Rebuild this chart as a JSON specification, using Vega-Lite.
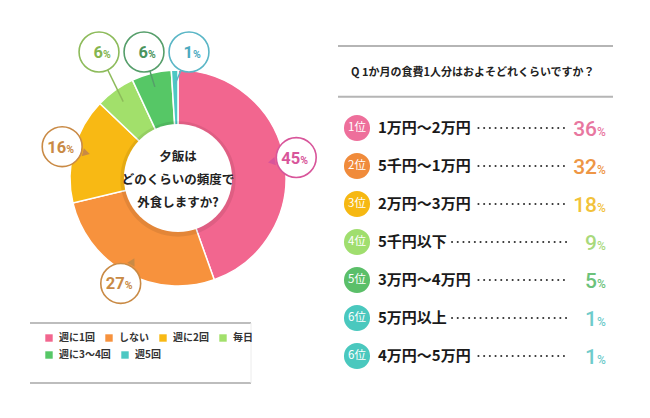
{
  "$schema": "https://vega.github.io/schema/vega-lite/v6.json",
  "padding": 0,
  "spacing": 0,
  "bounds": "flush",
  "background": "white",
  "config": {"view": {"stroke": null}, "font": "Noto Sans CJK JP"},
  "datasets": {
    "freq": [
      {"freq": "週に1回", "pct": 45, "order": 1},
      {"freq": "しない", "pct": 27, "order": 2},
      {"freq": "週に2回", "pct": 16, "order": 3},
      {"freq": "毎日", "pct": 6, "order": 4},
      {"freq": "週に3〜4回", "pct": 6, "order": 5},
      {"freq": "週5回", "pct": 1, "order": 6}
    ],
    "rank": [
      {"rank": "1位", "label": "1万円〜2万円", "pct": 36, "row": 1},
      {"rank": "2位", "label": "5千円〜1万円", "pct": 32, "row": 2},
      {"rank": "3位", "label": "2万円〜3万円", "pct": 18, "row": 3},
      {"rank": "4位", "label": "5千円以下", "pct": 9, "row": 4},
      {"rank": "5位", "label": "3万円〜4万円", "pct": 5, "row": 5},
      {"rank": "6位", "label": "5万円以上", "pct": 1, "row": 6},
      {"rank": "6位", "label": "4万円〜5万円", "pct": 1, "row": 7}
    ]
  },
  "resolve": {
    "scale": {"x": "independent", "y": "independent", "color": "independent", "fill": "independent", "stroke": "independent"},
    "legend": {"color": "independent"}
  },
  "hconcat": [
    {
      "width": 338,
      "height": 418,
      "resolve": {"scale": {"color": "independent"}, "legend": {"color": "independent"}},
      "encoding": {
        "x": {"type": "quantitative", "scale": {"domain": [-178, 160], "nice": false, "zero": false}, "axis": null},
        "y": {"type": "quantitative", "scale": {"domain": [-240, 178], "nice": false, "zero": false}, "axis": null}
      },
      "layer": [
        {
          "data": {"name": "freq"},
          "mark": {"type": "arc", "outerRadius": 108, "innerRadius": 50, "stroke": "white", "strokeWidth": 1.5},
          "encoding": {
            "x": {"datum": 0, "type": "quantitative"},
            "y": {"datum": 0, "type": "quantitative"},
            "theta": {"field": "pct", "type": "quantitative", "stack": true},
            "order": {"field": "order", "type": "quantitative"},
            "color": {
              "field": "freq", "type": "nominal",
              "scale": {"domain": ["週に1回", "しない", "週に2回", "毎日", "週に3〜4回", "週5回"],
                        "range": ["#F2668F", "#F7923D", "#F8B914", "#A2E06B", "#56C766", "#4DC8C3"]},
              "legend": {
                "orient": "none", "direction": "horizontal", "legendX": 44, "legendY": 333, "title": null,
                "values": ["週に1回", "しない", "週に2回", "毎日"],
                "symbolType": "square", "symbolSize": 55, "symbolStrokeWidth": 0,
                "symbolOpacity": 1, "labelFontSize": 10, "labelFontWeight": "bold", "labelColor": "#333",
                "labelFont": "Noto Sans CJK JP", "columnPadding": 9, "labelOffset": 5, "padding": 0
              }
            }
          }
        },
        {
          "data": {"name": "freq"},
          "transform": [{"filter": "datum.order >= 5"}],
          "mark": {"type": "point", "shape": "square", "filled": true, "opacity": 0},
          "encoding": {
            "x": {"datum": 0, "type": "quantitative"},
            "y": {"datum": 0, "type": "quantitative"},
            "color": {
              "field": "freq", "type": "nominal",
              "scale": {"domain": ["週に3〜4回", "週5回"], "range": ["#56C766", "#4DC8C3"]},
              "legend": {
                "orient": "none", "direction": "horizontal", "legendX": 44, "legendY": 350, "title": null,
                "symbolType": "square", "symbolSize": 55, "symbolStrokeWidth": 0,
                "symbolOpacity": 1, "labelFontSize": 10, "labelFontWeight": "bold", "labelColor": "#333",
                "labelFont": "Noto Sans CJK JP", "columnPadding": 9, "labelOffset": 5, "padding": 0
              }
            }
          }
        },
        {
          "data": {"values": [{}]},
          "mark": {"type": "point", "shape": "circle", "filled": true, "color": "#000", "opacity": 0.08, "size": 13300},
          "encoding": {"x": {"datum": 0, "type": "quantitative"}, "y": {"datum": -1, "type": "quantitative"}}
        },
        {
          "data": {"values": [{}]},
          "mark": {"type": "point", "shape": "circle", "filled": true, "color": "white", "opacity": 1, "size": 11700},
          "encoding": {"x": {"datum": 0, "type": "quantitative"}, "y": {"datum": 0, "type": "quantitative"}}
        },
        {
          "data": {"values": [{}]},
          "mark": {"type": "text", "text": ["夕飯は", "どのくらいの頻度で", "外食しますか?"], "fontSize": 12.5,
                   "fontWeight": "bold", "lineHeight": 23, "align": "center", "baseline": "middle", "color": "#222"},
          "encoding": {"x": {"datum": 0, "type": "quantitative"}, "y": {"datum": 21, "type": "quantitative"}}
        },
        {
          "data": {"values": [{}]},
          "mark": {"type": "rule", "color": "#bdbdbd", "strokeWidth": 2},
          "encoding": {"x": {"datum": -148, "type": "quantitative"}, "x2": {"datum": 73}, "y": {"datum": -145, "type": "quantitative"}}
        },
        {
          "data": {"values": [{}]},
          "mark": {"type": "rule", "color": "#bdbdbd", "strokeWidth": 2},
          "encoding": {"x": {"datum": -148, "type": "quantitative"}, "x2": {"datum": 73}, "y": {"datum": -205, "type": "quantitative"}}
        },
        {
          "data": {"values": [{}]},
          "mark": {"type": "rule", "color": "#ececec", "strokeWidth": 1},
          "encoding": {"x": {"datum": 73, "type": "quantitative"}, "y": {"datum": -145, "type": "quantitative"}, "y2": {"datum": -205}}
        },
        {
          "data": {"name": "freq"},
          "transform": [
            {"window": [{"op": "sum", "field": "pct", "as": "cum"}], "sort": [{"field": "order"}], "frame": [null, 0]},
            {"joinaggregate": [{"op": "sum", "field": "pct", "as": "total"}]},
            {"calculate": "(datum.cum - datum.pct/2)/datum.total*2*PI", "as": "mid"},
            {"calculate": "datum.pct >= 10", "as": "big"},
            {"calculate": "datum.big ? 120*sin(datum.mid) : -79 + 45*(datum.order-4)", "as": "lx"},
            {"calculate": "datum.big ? 120*cos(datum.mid) : 126", "as": "ly"},
            {"calculate": "94*sin(datum.mid)", "as": "px"},
            {"calculate": "94*cos(datum.mid)", "as": "py"},
            {"calculate": "sqrt(datum.lx*datum.lx + datum.ly*datum.ly)", "as": "ld"},
            {"calculate": "datum.lx - 25*datum.lx/datum.ld", "as": "tx"},
            {"calculate": "datum.ly - 25*datum.ly/datum.ld", "as": "ty"},
            {"calculate": "atan2(-datum.lx, -datum.ly)*180/PI", "as": "ta"}
          ],
          "layer": [
            {
              "transform": [{"filter": "!datum.big"}],
              "mark": {"type": "rule", "strokeWidth": 1.5},
              "encoding": {
                "x": {"field": "lx", "type": "quantitative"},
                "y": {"field": "ly", "type": "quantitative"},
                "x2": {"field": "px"},
                "y2": {"field": "py"},
                "stroke": {"field": "freq", "type": "nominal",
                  "scale": {"domain": ["週に1回", "しない", "週に2回", "毎日", "週に3〜4回", "週5回"],
                            "range": ["#D8559A", "#C98A45", "#C98A45", "#8DBB5B", "#559E6A", "#5AB6C6"]},
                  "legend": null}
              }
            },
            {
              "transform": [{"filter": "datum.big"}],
              "mark": {"type": "point", "shape": "triangle-up", "filled": true, "size": 70, "opacity": 1},
              "encoding": {
                "x": {"field": "tx", "type": "quantitative"},
                "y": {"field": "ty", "type": "quantitative"},
                "angle": {"field": "ta", "type": "quantitative", "scale": null},
                "fill": {"field": "freq", "type": "nominal",
                  "scale": {"domain": ["週に1回", "しない", "週に2回", "毎日", "週に3〜4回", "週5回"],
                            "range": ["#D8559A", "#C98A45", "#C98A45", "#84B54F", "#4A945D", "#4CAABF"]},
                  "legend": null}
              }
            },
            {
              "mark": {"type": "point", "shape": "circle", "size": 1590, "filled": false, "fill": "white", "fillOpacity": 1, "strokeWidth": 1.6, "opacity": 1},
              "encoding": {
                "x": {"field": "lx", "type": "quantitative"},
                "y": {"field": "ly", "type": "quantitative"},
                "stroke": {"field": "freq", "type": "nominal", "legend": null}
              }
            },
            {
              "mark": {"type": "text", "align": "right", "baseline": "alphabetic", "dx": 4, "dy": 6, "fontSize": 16.5, "fontWeight": "bold", "font": "Roboto"},
              "encoding": {
                "x": {"field": "lx", "type": "quantitative"},
                "y": {"field": "ly", "type": "quantitative"},
                "text": {"field": "pct", "type": "quantitative"},
                "fill": {"field": "freq", "type": "nominal", "legend": null}
              }
            },
            {
              "mark": {"type": "text", "align": "left", "baseline": "alphabetic", "dx": 4, "dy": 6, "fontSize": 10.5, "fontWeight": "bold", "font": "Roboto", "text": "%"},
              "encoding": {
                "x": {"field": "lx", "type": "quantitative"},
                "y": {"field": "ly", "type": "quantitative"},
                "fill": {"field": "freq", "type": "nominal", "legend": null}
              }
            }
          ]
        }
      ]
    },
    {
      "width": 312,
      "height": 418,
      "encoding": {
        "x": {"type": "quantitative", "scale": {"domain": [0, 312], "nice": false, "zero": false}, "axis": null},
        "y": {"type": "quantitative", "scale": {"domain": [-2.368, 8.632], "nice": false, "zero": false, "reverse": true}, "axis": null}
      },
      "layer": [
        {
          "data": {"values": [{}]},
          "mark": {"type": "rule", "color": "#b5b5b5", "strokeWidth": 2},
          "encoding": {"x": {"datum": 0, "type": "quantitative"}, "x2": {"datum": 275}, "y": {"datum": -1.16, "type": "quantitative"}}
        },
        {
          "data": {"values": [{}]},
          "mark": {"type": "rule", "color": "#b5b5b5", "strokeWidth": 2},
          "encoding": {"x": {"datum": 0, "type": "quantitative"}, "x2": {"datum": 275}, "y": {"datum": 0.18, "type": "quantitative"}}
        },
        {
          "data": {"values": [{}]},
          "mark": {"type": "text", "text": "Q 1か月の食費1人分はおよそどれくらいですか？", "align": "left", "baseline": "middle", "fontSize": 11, "fontWeight": "bold", "color": "#222"},
          "encoding": {"x": {"datum": 13, "type": "quantitative"}, "y": {"datum": -0.45, "type": "quantitative"}}
        },
        {
          "data": {"name": "rank"},
          "transform": [
            {"calculate": "40 + 13.2*length(datum.label) + 8", "as": "dotStart"}
          ],
          "layer": [
            {
              "mark": {"type": "point", "shape": "circle", "filled": true, "size": 680, "opacity": 1},
              "encoding": {
                "x": {"datum": 19, "type": "quantitative"},
                "y": {"field": "row", "type": "quantitative"},
                "color": {"field": "rank", "type": "nominal",
                  "scale": {"domain": ["1位", "2位", "3位", "4位", "5位", "6位"],
                            "range": ["#EE6F9B", "#F08B3B", "#F6B812", "#A0DE6E", "#5BBF69", "#4AC8BE"]},
                  "legend": null}
              }
            },
            {
              "mark": {"type": "text", "align": "center", "baseline": "middle", "fontSize": 11.5, "color": "white"},
              "encoding": {
                "x": {"datum": 19, "type": "quantitative"},
                "y": {"field": "row", "type": "quantitative"},
                "text": {"field": "rank", "type": "nominal"}
              }
            },
            {
              "mark": {"type": "text", "align": "left", "baseline": "middle", "fontSize": 15, "fontWeight": "bold", "color": "#1a1a1a"},
              "encoding": {
                "x": {"datum": 40, "type": "quantitative"},
                "y": {"field": "row", "type": "quantitative"},
                "text": {"field": "label", "type": "nominal"}
              }
            },
            {
              "mark": {"type": "rule", "color": "#333", "strokeWidth": 2, "strokeCap": "round", "strokeDash": [0.1, 5.6]},
              "encoding": {
                "x": {"field": "dotStart", "type": "quantitative"},
                "x2": {"datum": 230},
                "y": {"field": "row", "type": "quantitative"}
              }
            },
            {
              "mark": {"type": "text", "align": "right", "baseline": "alphabetic", "dy": 8, "fontSize": 21, "fontWeight": 500, "font": "Roboto"},
              "encoding": {
                "x": {"datum": 259, "type": "quantitative"},
                "y": {"field": "row", "type": "quantitative"},
                "text": {"field": "pct", "type": "quantitative"},
                "fill": {"field": "rank", "type": "nominal",
                  "scale": {"domain": ["1位", "2位", "3位", "4位", "5位", "6位"],
                            "range": ["#E8779F", "#EE9645", "#F2C23A", "#A9D97C", "#6CC27B", "#6ECBCB"]},
                  "legend": null}
              }
            },
            {
              "mark": {"type": "text", "align": "left", "baseline": "alphabetic", "dy": 8, "fontSize": 12, "fontWeight": 500, "font": "Roboto", "text": "%"},
              "encoding": {
                "x": {"datum": 259, "type": "quantitative"},
                "y": {"field": "row", "type": "quantitative"},
                "fill": {"field": "rank", "type": "nominal", "legend": null}
              }
            }
          ]
        }
      ]
    }
  ]
}
